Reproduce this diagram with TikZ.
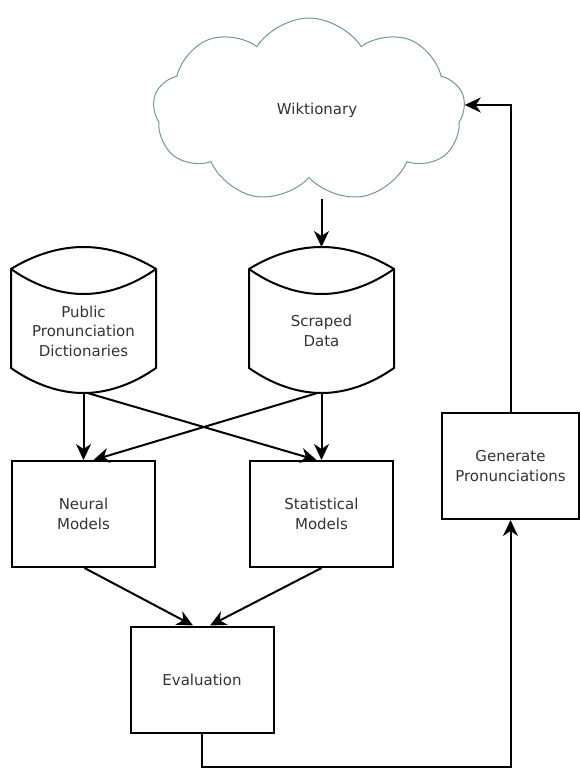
\documentclass[tikz,border=0pt]{standalone}
\usepackage{fontspec}
\setmainfont{DejaVu Sans}
\usepackage{xcolor}
\usetikzlibrary{shapes.symbols, positioning, arrows, arrows.meta}
\definecolor{cloudline}{RGB}{112,150,155}

\begin{document}
\begin{tikzpicture}[x=1pt,y=-1pt,->,>={Stealth[length=16pt,width=15pt,inset=5pt]},
                    line width=2pt,node distance=238pt,
                    every node/.style={font=\fontsize{15}{19.5}\selectfont,text=black!80,align=center},
                    main node/.style={rectangle,draw,minimum width=143pt,minimum height=106pt},
                    db node/.style={rectangle,minimum width=143pt,minimum height=122pt},
                    cloud node/.style={cloud,draw=cloudline,line width=1pt,cloud puffs=9,
                        cloud puff arc=115,minimum width=312pt,minimum height=184pt}]
        \useasboundingbox (0,0) rectangle (580,768);

        \node[cloud node] (1) at (309,110) {\hspace*{16pt}Wiktionary};
        \node[db node] (2) at (83.5,331) {Public\\Pronunciation\\Dictionaries};
        \node[db node] (3) [right of=2] {Scraped\\Data};
        \node[main node] (4) [below of=2, node distance=183pt] {Neural\\Models};
        \node[main node] (5) [right of=4] {Statistical\\Models};
        \node[main node] (6) at (202,679.5) {Evaluation};
        \node[main node, minimum width=137pt] (7) at (510.5,466) {Generate\\Pronunciations};

        % database outlines
        \foreach \n in {2,3} {
            \draw[-] (\n.north west) parabola bend ([yshift=22pt]\n.north) (\n.north east)
                -- ([yshift=25pt]\n.south east) parabola bend (\n.south) ([yshift=25pt]\n.south west) -- cycle;
            \draw[-] (\n.north west) parabola bend ([yshift=-25pt]\n.north) (\n.north east);
        }

        \draw ([yshift=-21pt]3.north |- 1.south) -- ([yshift=22pt]3.north);
        \draw (2.south) -- (4.north);
        \draw (3.south) -- (5.north);
        \draw ([xshift=4pt]2.south) -- ([xshift=-5pt]5.north);
        \draw ([xshift=-4pt]3.south) -- ([xshift=10pt]4.north);
        \draw ([xshift=1pt]4.south) -- ([xshift=-9pt]6.north);
        \draw (5.south) -- ([xshift=8pt]6.north);
        \draw (6.south) -- ++(0,33) -| (7.south);
        \draw (7.north) |- ([yshift=5pt]1.east);
\end{tikzpicture}
\end{document}
